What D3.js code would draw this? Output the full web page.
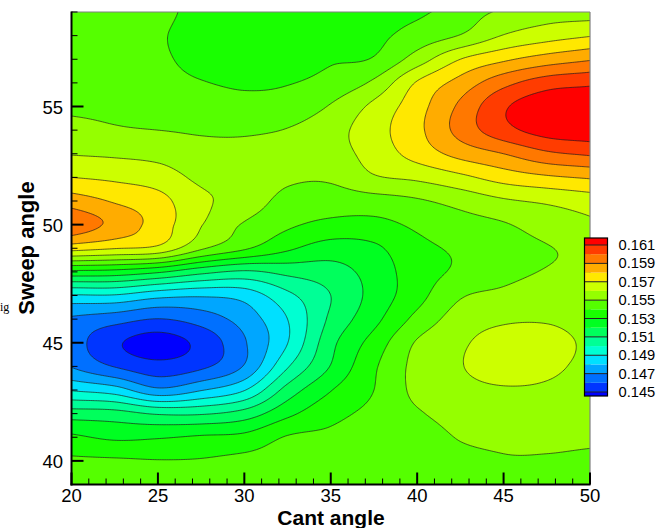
<!DOCTYPE html>
<html><head><meta charset="utf-8">
<script src="https://cdn.jsdelivr.net/npm/d3@7"></script>
<style>body{margin:0;background:#fff;} svg{display:block;}</style>
</head><body>
<svg id="chart" width="659" height="528"></svg>
<script>
// ---- data ----
const cantValues = [20,22.5,25,27.5,30,32.5,35,37.5,40,42.5,45,47.5,50];
const sweepValues = [39,40,41,42,43,44,45,46,47,48,49,50,51,52,53,54,55,56,57,58,59];
// one row per sweep angle (39 .. 59), one column per cant angle (20 .. 50)
const liftGrid = [
 [.15450,.15450,.15450,.15450,.15450,.15450,.15450,.15455,.15455,.15470,.15485,.15485,.15480],
 [.15415,.15412,.15404,.15407,.15425,.15440,.15445,.15450,.15455,.15480,.15495,.15495,.15490],
 [.15319,.15282,.15291,.15313,.15328,.15407,.15420,.15440,.15460,.15505,.15515,.15515,.15510],
 [.15148,.15138,.15090,.15090,.15142,.15275,.15370,.15425,.15490,.15535,.15545,.15545,.15530],
 [.14893,.14847,.14724,.14793,.14894,.15139,.15295,.15400,.15525,.15570,.15590,.15585,.15555],
 [.14695,.14595,.14535,.14580,.14708,.14990,.15205,.15385,.15530,.15595,.15645,.15620,.15575],
 [.14650,.14518,.14458,.14530,.14690,.14898,.15170,.15340,.15510,.15585,.15640,.15635,.15580],
 [.14685,.14644,.14597,.14647,.14744,.14900,.15120,.15270,.15430,.15545,.15585,.15590,.15560],
 [.14890,.14891,.14833,.14813,.14840,.14975,.15100,.15235,.15365,.15490,.15520,.15540,.15535],
 [.15276,.15264,.15214,.15131,.15085,.15129,.15159,.15240,.15355,.15418,.15475,.15505,.15520],
 [.15740,.15705,.15673,.15515,.15414,.15318,.15255,.15282,.15375,.15415,.15462,.15495,.15525],
 [.15970,.15870,.15755,.15605,.15490,.15417,.15375,.15371,.15418,.15460,.15492,.15543,.15580],
 [.15850,.15790,.15735,.15620,.15560,.15466,.15450,.15459,.15488,.15535,.15586,.15616,.15650],
 [.15700,.15680,.15650,.15580,.15575,.15520,.15515,.15590,.15620,.15676,.15743,.15784,.15811],
 [.15595,.15585,.15570,.15535,.15540,.15555,.15560,.15640,.15740,.15834,.15900,.15980,.16015],
 [.15530,.15510,.15500,.15490,.15485,.15505,.15560,.15660,.15775,.15935,.16065,.16140,.16160],
 [.15485,.15480,.15460,.15455,.15435,.15445,.15508,.15625,.15760,.15920,.16085,.16165,.16184],
 [.15470,.15460,.15430,.15405,.15385,.15395,.15435,.15520,.15710,.15837,.15967,.16053,.16080],
 [.15460,.15450,.15415,.15375,.15350,.15355,.15390,.15408,.15547,.15700,.15782,.15845,.15890],
 [.15455,.15445,.15410,.15365,.15340,.15340,.15370,.15378,.15440,.15505,.15605,.15657,.15694],
 [.15455,.15445,.15425,.15370,.15345,.15340,.15365,.15370,.15382,.15450,.15515,.15550,.15550]
];
const contourLevels = [0.145,0.146,0.147,0.148,0.149,0.150,0.151,0.152,0.153,0.154,0.155,0.156,0.157,0.158,0.159,0.160,0.161];
const bandColors = ["#0000ff","#0035ff","#0070ff","#00a6ff","#00e0ff","#00ffd2","#00ff96","#00ff5c","#00ff21",
  "#19ff00","#55ff00","#95ff00","#ccff00","#ffe800","#ffac00","#ff7800","#ff3c00","#ff0000"];
const legendLabels = ["0.161","0.159","0.157","0.155","0.153","0.151","0.149","0.147","0.145"];
const xTickValues = [20,25,30,35,40,45,50];
const yTickValues = [40,45,50,55];
const xTitle = "Cant angle", yTitle = "Sweep angle";

// ---- layout ----
const svg = d3.select("#chart");
const X0 = 71.5, X1 = 590, Y0 = 12, Y1 = 484.5;
const x = d3.scaleLinear().domain([20,50]).range([X0,X1]);
const y = d3.scaleLinear().domain([39,59]).range([Y1,Y0]);
const font = "'Liberation Sans', Arial, sans-serif";

// ---- resample the read grid smoothly (Catmull-Rom) for drawing ----
const nc = cantValues.length, ns = sweepValues.length;
const P = [];
for (let j = 0; j < ns; j++) {
  const r = liftGrid[j].slice();
  r.unshift(2*r[0]-r[1]); r.push(2*r[r.length-1]-r[r.length-2]);
  P.push(r);
}
P.unshift(P[0].map((v,i)=>2*v-P[1][i]));
P.push(P[P.length-1].map((v,i)=>2*v-P[P.length-2][i]));
function cr(p0,p1,p2,p3,t){const t2=t*t,t3=t2*t;return 0.5*(2*p1+(-p0+p2)*t+(2*p0-5*p1+4*p2-p3)*t2+(-p0+3*p1-3*p2+p3)*t3);}
function sample(u,v){
  let i=Math.min(Math.floor(u),nc-2), j=Math.min(Math.floor(v),ns-2);
  const tu=u-i, tv=v-j, rows=[];
  for(let k=0;k<4;k++){const R=P[j+k];rows.push(cr(R[i],R[i+1],R[i+2],R[i+3],tu));}
  return cr(rows[0],rows[1],rows[2],rows[3],tv);
}
const dC = 0.1, dS = 0.05;
const nx = Math.round(30/dC)+1, ny = Math.round(20/dS)+1;
const fine = new Float64Array(nx*ny);
for (let m=0;m<ny;m++) for (let k=0;k<nx;k++){
  const cant=20+k*dC, sw=39+m*dS;
  fine[m*nx+k]=sample((cant-20)/2.5, sw-39);
}
const thresholds=[0.1].concat(contourLevels);
const contours=d3.contours().size([nx,ny]).thresholds(thresholds)(fine);
const proj=d3.geoTransform({point:function(px,py){
  this.stream.point(x(20+(px-0.5)*dC), y(39+(py-0.5)*dS));}});
const path=d3.geoPath(proj);

svg.append("clipPath").attr("id","clip").append("rect")
  .attr("x",X0).attr("y",Y0).attr("width",X1-X0).attr("height",Y1-Y0);
const plot=svg.append("g").attr("clip-path","url(#clip)");
plot.selectAll("path.band").data(contours).join("path").attr("class","band")
  .attr("d",path).attr("fill",(d,i)=>bandColors[i]).attr("stroke",(d,i)=>bandColors[i]).attr("stroke-width",0.3);
plot.selectAll("path.line").data(contours.slice(1)).join("path").attr("class","line")
  .attr("d",path).attr("fill","none").attr("stroke","#1e1e1e").attr("stroke-width",0.8).attr("stroke-opacity",0.85);

// ---- frame & axes ----
svg.append("line").attr("x1",X0).attr("x2",X1).attr("y1",Y0).attr("y2",Y0).attr("stroke","#808080").attr("stroke-width",1.2);
svg.append("line").attr("x1",X1).attr("x2",X1).attr("y1",Y0).attr("y2",Y1).attr("stroke","#808080").attr("stroke-width",1.2);
svg.append("line").attr("x1",X0).attr("x2",X0).attr("y1",Y0-0.5).attr("y2",Y1+1).attr("stroke","#000").attr("stroke-width",2);
svg.append("line").attr("x1",X0-1).attr("x2",X1+0.5).attr("y1",Y1).attr("y2",Y1).attr("stroke","#000").attr("stroke-width",2);

const ax=svg.append("g").attr("stroke","#000");
d3.range(20,51,1).forEach(v=>{
  const major=xTickValues.includes(v);
  ax.append("line").attr("x1",x(v)).attr("x2",x(v)).attr("y1",Y1).attr("y2",Y1-(major?12:6)).attr("stroke-width",major?2:1);
});
d3.range(39,60,1).forEach(v=>{
  const major=yTickValues.includes(v);
  ax.append("line").attr("x1",X0).attr("x2",X0+(major?12:6)).attr("y1",y(v)).attr("y2",y(v)).attr("stroke-width",major?2:1);
});
svg.selectAll("text.xt").data(xTickValues).join("text").attr("class","xt")
  .attr("x",d=>x(d)).attr("y",501.5).attr("text-anchor","middle")
  .attr("font-family",font).attr("font-size",18.5).text(d=>d);
svg.selectAll("text.yt").data(yTickValues).join("text").attr("class","yt")
  .attr("x",63).attr("y",d=>y(d)+7).attr("text-anchor","end")
  .attr("font-family",font).attr("font-size",18.5).text(d=>d);
svg.append("text").attr("x",331).attr("y",525).attr("text-anchor","middle")
  .attr("font-family",font).attr("font-size",21).attr("font-weight","bold").text(xTitle);
svg.append("text").attr("transform","translate(34,248) rotate(-90)").attr("text-anchor","middle")
  .attr("font-family",font).attr("font-size",22).attr("font-weight","bold").text(yTitle);
svg.append("text").attr("x",0).attr("y",311).attr("font-family","'Liberation Serif',serif").attr("font-size",12).text("ig");

// ---- colour legend ----
const LX=584.5, LW=23, LT=238, LB=396;
const ly=d3.scaleLinear().domain([0.145,0.161]).range([392,245]);
const lg=svg.append("g");
const edges=[LB].concat(contourLevels.map(v=>ly(v))).concat([LT]);
bandColors.forEach((c,i)=>{
  lg.append("rect").attr("x",LX).attr("width",LW).attr("y",edges[i+1]).attr("height",edges[i]-edges[i+1]).attr("fill",c);
});
legendLabels.forEach(s=>{
  const v=+s;
  lg.append("line").attr("x1",LX).attr("x2",LX+LW).attr("y1",ly(v)).attr("y2",ly(v)).attr("stroke","#222").attr("stroke-width",1);
  lg.append("text").attr("x",LX+LW+11).attr("y",ly(v)+5).attr("font-family",font).attr("font-size",14.7).text(s);
});
lg.append("rect").attr("x",LX).attr("y",LT).attr("width",LW).attr("height",LB-LT).attr("fill","none").attr("stroke","#000").attr("stroke-width",1.2);
</script>
</body></html>
